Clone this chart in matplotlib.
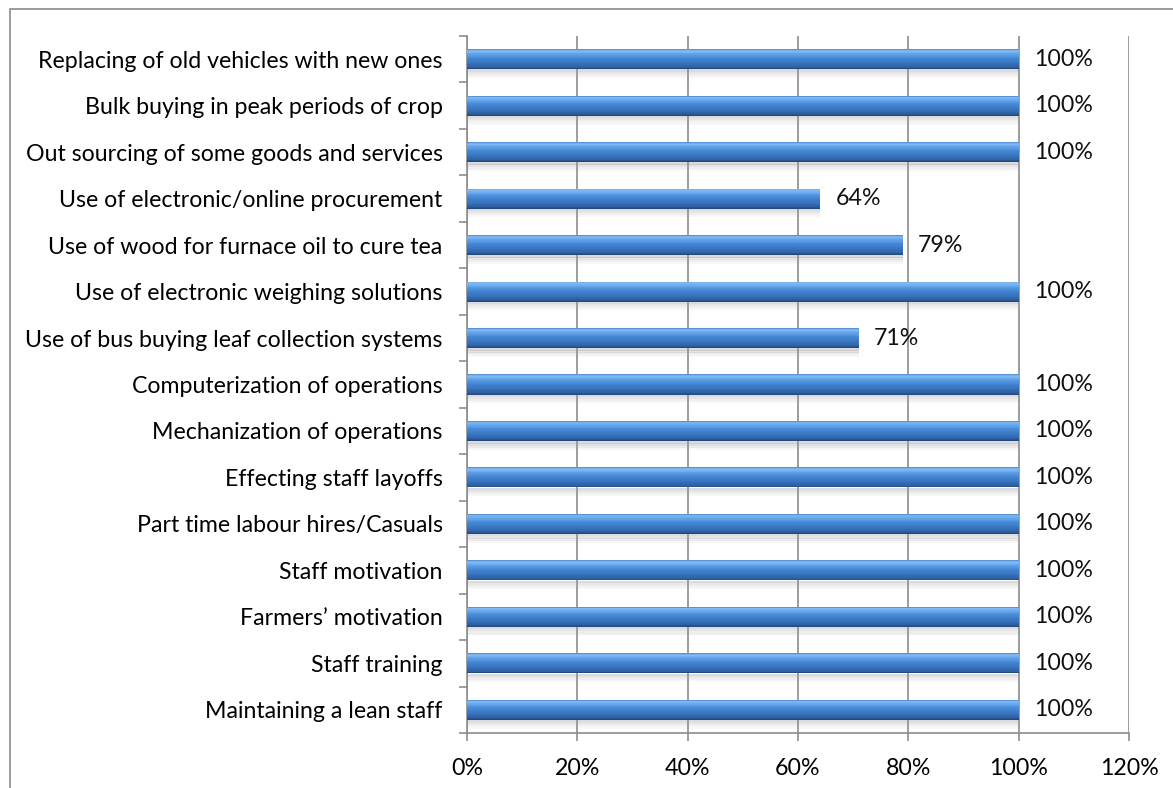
import matplotlib
matplotlib.use("Agg")
import matplotlib.pyplot as plt
import numpy as np
from matplotlib.patches import Rectangle
from matplotlib.colors import to_rgb

categories = [
    "Replacing of old vehicles with new ones",
    "Bulk buying in peak periods of crop",
    "Out sourcing of some goods and services",
    "Use of electronic/online procurement",
    "Use of wood for furnace oil to cure tea",
    "Use of electronic weighing solutions",
    "Use of bus buying leaf collection systems",
    "Computerization of operations",
    "Mechanization of operations",
    "Effecting staff layoffs",
    "Part time labour hires/Casuals",
    "Staff motivation",
    "Farmers\u2019 motivation",
    "Staff training",
    "Maintaining a lean staff",
]
values = [100, 100, 100, 64, 79, 100, 71, 100, 100, 100, 100, 100, 100, 100, 100]
xticks = [0, 20, 40, 60, 80, 100, 120]

plt.rcParams['font.family'] = ['Lato', 'DejaVu Sans']
FS = 16.7

W, H = 1173, 788
fig = plt.figure(figsize=(W / 100, H / 100), dpi=100)
ax = fig.add_axes([467 / W, 1 - 733 / H, (1129 - 467) / W, (733 - 36) / H])

# outer chart frame
fig.patches.append(Rectangle((10 / W, -0.1), 1.2, 1 - 9 / H + 0.1, transform=fig.transFigure,
                             fill=False, edgecolor='#8c8c8c', lw=1.2))

y = np.arange(len(categories))
bh = 0.43

# soft shadow beneath bars
for k, a in enumerate([0.35, 0.25, 0.15, 0.08]):
    ax.barh(y + bh / 2 + 0.03 + k * 0.045, values, height=0.05, color='#9a9a9a',
            alpha=a, linewidth=0, zorder=2)

# smooth vertical gradient (top -> bottom) for cylinder look
stops_t = [0.0, 0.08, 0.22, 0.45, 0.7, 0.9, 1.0]
stops_c = ['#4a84cc', '#84bdf4', '#64a5ec', '#4586d4', '#3873bd', '#2d5fa0', '#1f4576']
stops_rgb = np.array([to_rgb(c) for c in stops_c])
N = 24
for i in range(N):
    t = (i + 0.5) / N
    col = [np.interp(t, stops_t, stops_rgb[:, j]) for j in range(3)]
    center = y - bh / 2 + bh * t
    ax.barh(center, values, height=bh / N * 1.05, color=col, zorder=3, linewidth=0)

for yi, v in zip(y, values):
    ax.annotate(f"{v}%", (v, yi), xytext=(11, 0), textcoords='offset points',
                va='center', ha='left', fontsize=FS, color='#111111')

ax.set_xlim(0, 120)
ax.set_ylim(len(categories) - 0.5, -0.5)
ax.set_xticks(xticks)
ax.set_xticklabels([f"{t}%" for t in xticks], fontsize=FS)
ax.set_yticks(y)
ax.set_yticklabels(categories, fontsize=FS)
ax.set_yticks(np.arange(len(categories) + 1) - 0.5, minor=True)
ax.tick_params(axis='y', which='major', length=0, pad=17.5)
ax.tick_params(axis='y', which='minor', length=6, color='#8c8c8c', width=1.2)
ax.tick_params(axis='x', length=6, color='#8c8c8c', width=1.2, pad=12)
ax.grid(axis='x', color='#8c8c8c', lw=1.2, zorder=1)
ax.set_axisbelow(True)
for s in ['top', 'right']:
    ax.spines[s].set_visible(False)
for s in ['left', 'bottom']:
    ax.spines[s].set_color('#8c8c8c')
    ax.spines[s].set_linewidth(1.2)

fig.savefig("out.png", dpi=100)
